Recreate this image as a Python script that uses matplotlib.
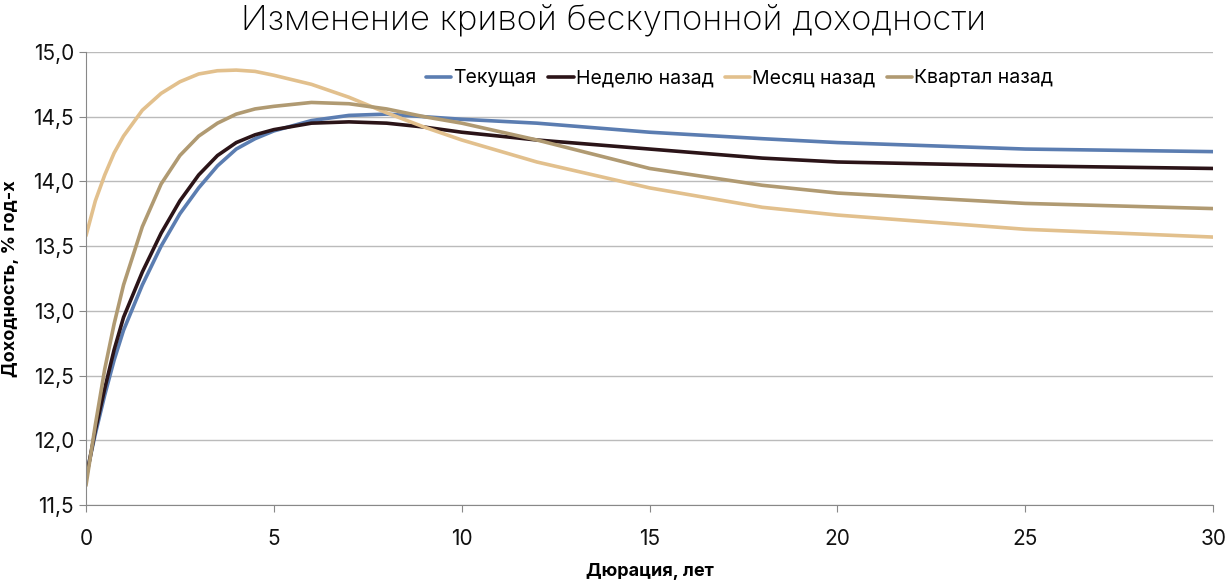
import matplotlib.pyplot as plt

plt.rcParams['font.family'] = ['Inter', 'DejaVu Sans']

duration = [0, 0.25, 0.5, 0.75, 1, 1.5, 2, 2.5, 3, 3.5, 4, 4.5, 5, 6, 7, 8, 9,
            10, 12, 15, 18, 20, 25, 30]

current = [11.72, 12.05, 12.35, 12.62, 12.85, 13.2, 13.5, 13.75, 13.95, 14.12,
           14.25, 14.33, 14.39, 14.47, 14.51, 14.52, 14.50, 14.48, 14.45,
           14.38, 14.33, 14.30, 14.25, 14.23]
week_ago = [11.70, 12.08, 12.4, 12.7, 12.95, 13.3, 13.6, 13.85, 14.05, 14.2,
            14.3, 14.36, 14.4, 14.45, 14.46, 14.45, 14.42, 14.38, 14.32,
            14.25, 14.18, 14.15, 14.12, 14.10]
month_ago = [13.58, 13.85, 14.05, 14.22, 14.35, 14.55, 14.68, 14.77, 14.83,
             14.855, 14.86, 14.85, 14.82, 14.75, 14.65, 14.53, 14.42, 14.32,
             14.15, 13.95, 13.80, 13.74, 13.63, 13.57]
quarter_ago = [11.65, 12.12, 12.55, 12.9, 13.2, 13.65, 13.98, 14.2, 14.35,
               14.45, 14.52, 14.56, 14.58, 14.61, 14.6, 14.56, 14.5, 14.45,
               14.32, 14.1, 13.97, 13.91, 13.83, 13.79]

labels = ["Текущая", "Неделю назад", "Месяц назад", "Квартал назад"]
colors = ["#5B7DB1", "#2B1418", "#E2C08D", "#B09A72"]

fig = plt.figure(figsize=(12.28, 5.82), dpi=100)
ax = fig.add_axes([0.070, 0.1323, 0.918, 0.7784])

for ys, lab, c in zip([current, week_ago, month_ago, quarter_ago], labels, colors):
    ax.plot(duration, ys, color=c, lw=2.6, label=lab, solid_capstyle='round')

ax.set_xlim(0, 30)
ax.set_ylim(11.5, 15.0)
ax.set_xticks([0, 5, 10, 15, 20, 25, 30])
ax.set_yticks([11.5, 12.0, 12.5, 13.0, 13.5, 14.0, 14.5, 15.0])
ax.set_yticklabels([f"{v:.1f}".replace('.', ',') for v in ax.get_yticks()])
ax.tick_params(labelsize=15, colors='#888888', labelcolor='#111111', length=5)
ax.tick_params(axis='x', pad=12)
ax.grid(axis='y', color='#BBBBBB', lw=1)
ax.set_axisbelow(True)
for s in ['top', 'right']:
    ax.spines[s].set_visible(False)
for s in ['left', 'bottom']:
    ax.spines[s].set_color('#888888')

ax.set_xlabel("Дюрация, лет", fontsize=13, fontweight='bold', labelpad=10)
ax.set_ylabel("Доходность, % год-х", fontsize=13, fontweight='bold', labelpad=10)
fig.text(0.5, 0.965, "Изменение кривой бескупонной доходности",
         ha='center', va='center', fontsize=25, fontweight='light')

ax.legend(loc='upper center', bbox_to_anchor=(0.58, 1.0), ncol=4, frameon=False,
          fontsize=14, handlelength=1.3, handletextpad=0.1, columnspacing=0.6)

fig.savefig("out.png")
